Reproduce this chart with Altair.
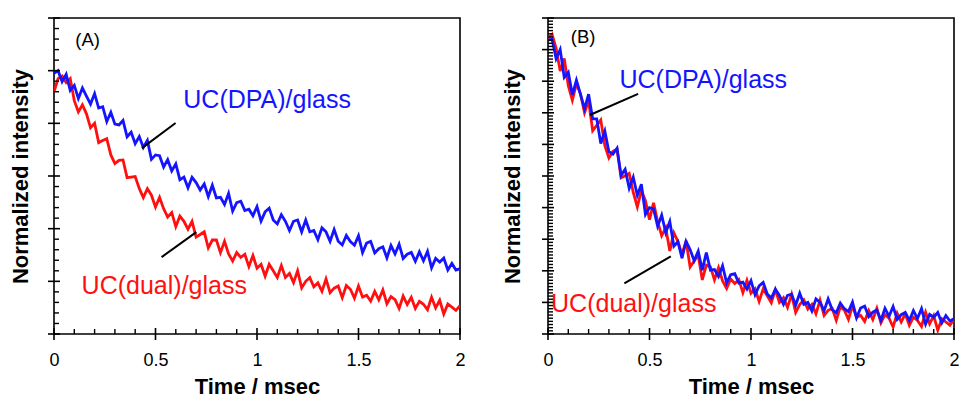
import altair as alt
import pandas as pd

# ---------------- data ----------------
t_ms = [round(i * 0.02, 2) for i in range(101)]

a_dpa = [0.990, 1.000, 0.958, 0.986, 0.925, 0.944, 0.894, 0.934, 0.903, 0.873,
         0.913, 0.858, 0.863, 0.807, 0.842, 0.797, 0.794, 0.811, 0.749, 0.766,
         0.723, 0.750, 0.708, 0.735, 0.663, 0.680, 0.677, 0.634, 0.662, 0.619,
         0.646, 0.586, 0.596, 0.555, 0.595, 0.575, 0.547, 0.570, 0.522, 0.565,
         0.517, 0.519, 0.492, 0.534, 0.467, 0.499, 0.504, 0.469, 0.474, 0.449,
         0.484, 0.429, 0.464, 0.478, 0.433, 0.418, 0.453, 0.428, 0.393, 0.428,
         0.433, 0.388, 0.433, 0.388, 0.393, 0.358, 0.403, 0.388, 0.352, 0.397,
         0.352, 0.338, 0.374, 0.351, 0.337, 0.373, 0.309, 0.345, 0.352, 0.308,
         0.324, 0.331, 0.289, 0.336, 0.304, 0.341, 0.287, 0.303, 0.310, 0.276,
         0.312, 0.278, 0.314, 0.251, 0.287, 0.273, 0.288, 0.243, 0.268, 0.243,
         0.248]

a_dual = [0.920, 0.970, 0.980, 0.955, 0.970, 0.886, 0.843, 0.870, 0.836, 0.783,
          0.800, 0.727, 0.735, 0.742, 0.680, 0.647, 0.659, 0.661, 0.594, 0.596,
          0.598, 0.553, 0.518, 0.552, 0.527, 0.482, 0.519, 0.476, 0.444, 0.461,
          0.408, 0.448, 0.428, 0.398, 0.428, 0.368, 0.378, 0.388, 0.327, 0.357,
          0.357, 0.309, 0.352, 0.304, 0.277, 0.309, 0.291, 0.303, 0.256, 0.298,
          0.250, 0.265, 0.220, 0.265, 0.240, 0.215, 0.260, 0.215, 0.230, 0.195,
          0.240, 0.175, 0.200, 0.214, 0.179, 0.194, 0.162, 0.209, 0.157, 0.174,
          0.182, 0.138, 0.184, 0.170, 0.136, 0.182, 0.140, 0.147, 0.125, 0.162,
          0.130, 0.167, 0.115, 0.142, 0.130, 0.097, 0.144, 0.112, 0.139, 0.097,
          0.124, 0.113, 0.092, 0.140, 0.099, 0.128, 0.076, 0.114, 0.102, 0.090,
          0.108]

b_dpa = [0.930, 0.933, 0.871, 0.900, 0.812, 0.828, 0.757, 0.803, 0.758, 0.713,
         0.759, 0.681, 0.681, 0.603, 0.642, 0.577, 0.569, 0.588, 0.502, 0.521,
         0.461, 0.496, 0.439, 0.474, 0.378, 0.400, 0.396, 0.341, 0.376, 0.321,
         0.356, 0.278, 0.292, 0.240, 0.293, 0.267, 0.232, 0.262, 0.202, 0.258,
         0.202, 0.204, 0.182, 0.216, 0.162, 0.188, 0.191, 0.161, 0.164, 0.142,
         0.169, 0.124, 0.152, 0.163, 0.127, 0.114, 0.142, 0.122, 0.094, 0.122,
         0.126, 0.091, 0.129, 0.094, 0.100, 0.073, 0.111, 0.100, 0.074, 0.111,
         0.077, 0.067, 0.098, 0.080, 0.071, 0.101, 0.051, 0.082, 0.088, 0.055,
         0.069, 0.076, 0.043, 0.081, 0.056, 0.087, 0.046, 0.061, 0.068, 0.043,
         0.074, 0.049, 0.080, 0.031, 0.062, 0.053, 0.068, 0.035, 0.058, 0.041,
         0.048]

b_dual = [0.936, 0.948, 0.904, 0.832, 0.872, 0.786, 0.740, 0.792, 0.760, 0.700,
          0.738, 0.643, 0.660, 0.677, 0.596, 0.557, 0.578, 0.585, 0.494, 0.501,
          0.508, 0.448, 0.402, 0.454, 0.422, 0.362, 0.415, 0.356, 0.311, 0.336,
          0.263, 0.320, 0.293, 0.252, 0.295, 0.212, 0.231, 0.250, 0.171, 0.218,
          0.213, 0.171, 0.210, 0.168, 0.144, 0.174, 0.160, 0.172, 0.131, 0.170,
          0.129, 0.143, 0.103, 0.143, 0.121, 0.099, 0.140, 0.100, 0.115, 0.084,
          0.125, 0.068, 0.093, 0.108, 0.079, 0.094, 0.064, 0.107, 0.059, 0.075,
          0.081, 0.043, 0.086, 0.075, 0.046, 0.089, 0.052, 0.059, 0.040, 0.074,
          0.046, 0.081, 0.035, 0.061, 0.050, 0.022, 0.066, 0.038, 0.064, 0.027,
          0.053, 0.043, 0.024, 0.069, 0.032, 0.058, 0.012, 0.048, 0.038, 0.028,
          0.046]

series_names = ["UC(DPA)/glass", "UC(dual)/glass"]
x_major = [0, 0.5, 1, 1.5, 2]
x_minor = [0.1, 0.2, 0.3, 0.4, 0.6, 0.7, 0.8, 0.9, 1.1, 1.2, 1.3, 1.4,
           1.6, 1.7, 1.8, 1.9]
a_y_major = [0, 0.2, 0.4, 0.6, 0.8, 1.0, 1.2]
a_y_minor = [round(k * 0.04, 2) for k in range(31) if k % 5]
b_y_major = [0, 0.1, 0.2, 0.3, 0.4, 0.5, 0.6, 0.7, 0.8, 0.9, 1.0]
b_y_minor = [round(k * 0.01, 2) for k in range(101) if k % 10]

# annotation anchors (data coordinates)
a_labels = [{"x": 0.637, "y": 0.858, "text": series_names[0], "s": "dpa"},
            {"x": 0.136, "y": 0.152, "text": series_names[1], "s": "dual"}]
a_leaders = [{"x": 0.433, "y": 0.706, "x2": 0.599, "y2": 0.801},
             {"x": 0.530, "y": 0.292, "x2": 0.701, "y2": 0.387}]
a_tag = [{"x": 0.105, "y": 1.094, "text": "(A)"}]

b_labels = [{"x": 0.352, "y": 0.779, "text": series_names[0], "s": "dpa"},
            {"x": 0.015, "y": 0.071, "text": series_names[1], "s": "dual"}]
b_leaders = [{"x": 0.206, "y": 0.693, "x2": 0.444, "y2": 0.760},
             {"x": 0.376, "y": 0.160, "x2": 0.605, "y2": 0.246}]
b_tag = [{"x": 0.112, "y": 0.921, "text": "(B)"}]

# ---------------- styling ----------------
FONT = "Liberation Sans"
BLUE = "#1414ff"
RED = "#ff0f0f"
W, H = 406, 316


def panel(dpa, dual, ymax, ymaj, ymin, labels, leaders, tag, title_pad):
    xs = alt.Scale(domain=[0, 2], nice=False, zero=False)
    ys = alt.Scale(domain=[0, ymax], nice=False, zero=False)
    df = pd.DataFrame({"t": t_ms * 2,
                       "v": dpa + dual,
                       "s": ["dpa"] * len(dpa) + ["dual"] * len(dual)})

    xaxis = alt.Axis(values=x_major, format="~g", labelFontSize=18, labelFont=FONT,
                     labelColor="black", ticks=False, domain=False, grid=False,
                     labelFlush=False, labelPadding=17, title="Time / msec",
                     titleFont=FONT, titleFontSize=22, titleFontWeight="bold",
                     titleColor="black", titlePadding=7)
    yaxis = alt.Axis(labels=False, ticks=False, domain=False, grid=False,
                     title="Normalized intensity", titleFont=FONT, titleFontSize=22,
                     titleFontWeight="bold", titleColor="black", titlePadding=title_pad)

    def X(f):
        return alt.X(f, scale=xs, axis=xaxis)

    def Y(f):
        return alt.Y(f, scale=ys, axis=yaxis)

    red = alt.Chart(df).transform_filter(alt.datum.s == "dual").mark_line(
        color=RED, strokeWidth=2.8, clip=True).encode(x=X("t:Q"), y=Y("v:Q"))
    blue = alt.Chart(df).transform_filter(alt.datum.s == "dpa").mark_line(
        color=BLUE, strokeWidth=2.8, clip=True).encode(x=X("t:Q"), y=Y("v:Q"))

    ymaj_df = pd.DataFrame({"v": ymaj})
    ymin_df = pd.DataFrame({"v": ymin})
    xmaj_df = pd.DataFrame({"t": x_major})
    xmin_df = pd.DataFrame({"t": x_minor})

    ymaj_r = alt.Chart(ymaj_df).mark_rule(color="black", strokeWidth=1.6).encode(
        y=Y("v:Q"), x=alt.value(-6), x2=alt.value(6))
    ymin_r = alt.Chart(ymin_df).mark_rule(color="black", strokeWidth=1.4).encode(
        y=Y("v:Q"), x=alt.value(0), x2=alt.value(5))
    xmaj_r = alt.Chart(xmaj_df).mark_rule(color="black", strokeWidth=1.6).encode(
        x=X("t:Q"), y=alt.value(H - 6), y2=alt.value(H + 6))
    xmin_r = alt.Chart(xmin_df).mark_rule(color="black", strokeWidth=1.4).encode(
        x=X("t:Q"), y=alt.value(H - 5), y2=alt.value(H))

    lead = alt.Chart(pd.DataFrame(leaders)).mark_rule(color="black", strokeWidth=2).encode(
        x=X("x:Q"), x2="x2:Q", y=Y("y:Q"), y2="y2:Q")
    txt = alt.Chart(pd.DataFrame(labels)).mark_text(
        align="left", baseline="alphabetic", font=FONT, fontSize=25).encode(
        x=X("x:Q"), y=Y("y:Q"), text="text:N",
        color=alt.Color("s:N", scale=alt.Scale(domain=["dpa", "dual"], range=[BLUE, RED]),
                        legend=None))
    tg = alt.Chart(pd.DataFrame(tag)).mark_text(
        align="left", baseline="alphabetic", font=FONT, fontSize=18.5, color="black").encode(
        x=X("x:Q"), y=Y("y:Q"), text="text:N")

    return alt.layer(red, blue, ymin_r, ymaj_r, xmin_r, xmaj_r, lead, txt, tg).properties(
        width=W, height=H)


pa = panel(a_dpa, a_dual, 1.2, a_y_major, a_y_minor, a_labels, a_leaders, a_tag, 22)
pb = panel(b_dpa, b_dual, 1.0, b_y_major, b_y_minor, b_labels, b_leaders, b_tag, 24)

chart = alt.hconcat(pa, pb, spacing=34).properties(
    padding={"left": 0, "top": 8, "right": 0, "bottom": 0},
    background="white"
).configure_view(stroke="black", strokeWidth=1.6).resolve_scale(color="independent")

chart.save("out.html", embed_options={"renderer": "svg", "actions": False})
